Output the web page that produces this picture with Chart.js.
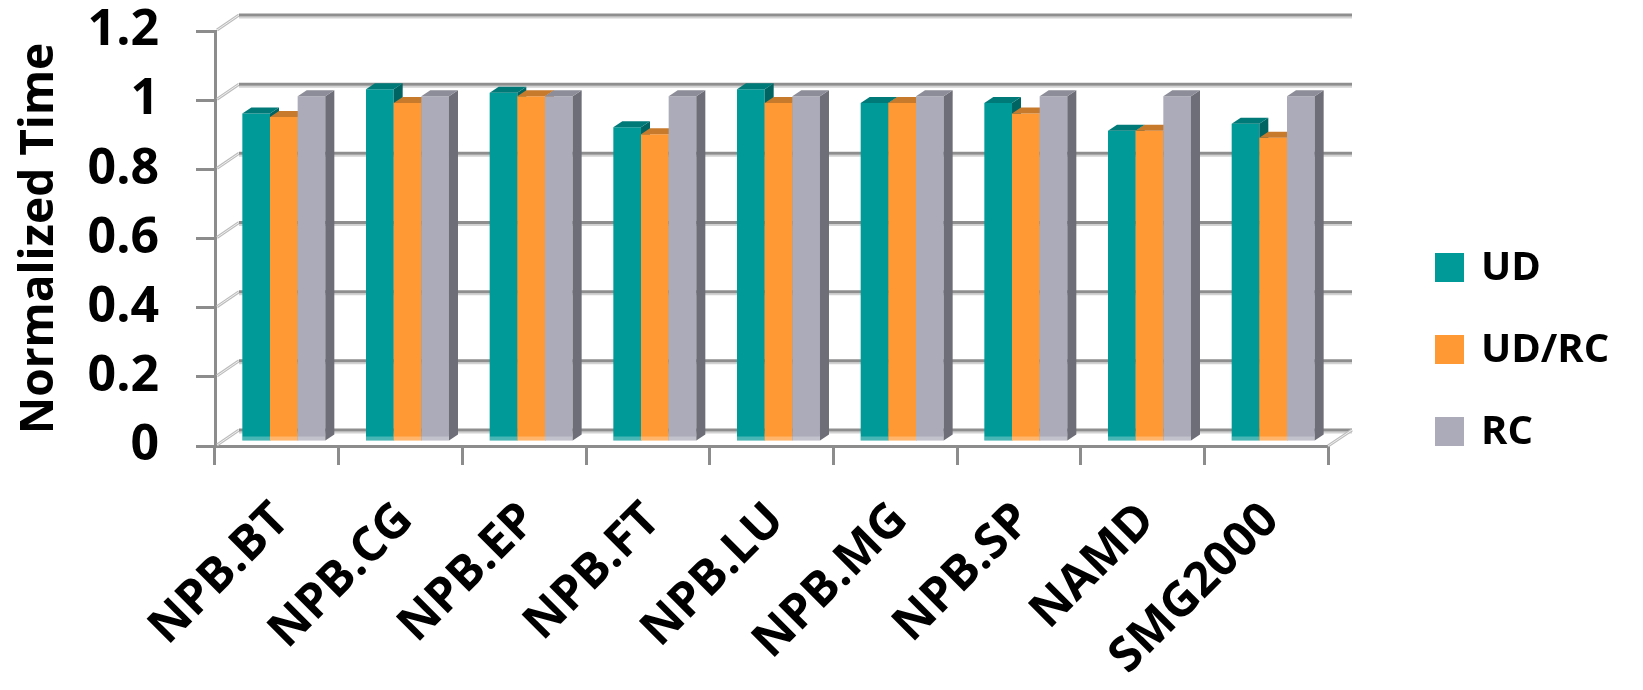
<!DOCTYPE html>
<html>
<head>
<meta charset="utf-8">
<script src="https://cdn.jsdelivr.net/npm/chart.js@4.4.1/dist/chart.umd.min.js"></script>
<style>
  html, body { margin: 0; padding: 0; background: #ffffff; }
  #wrap { width: 1643px; height: 690px; }
</style>
</head>
<body>
<div id="wrap"><canvas id="chart" width="1643" height="690"></canvas></div>
<script>
// ---- data ----
const categories = ['NPB.BT', 'NPB.CG', 'NPB.EP', 'NPB.FT', 'NPB.LU', 'NPB.MG', 'NPB.SP', 'NAMD', 'SMG2000'];
const seriesNames = ['UD', 'UD/RC', 'RC'];
const udValues   = [0.95, 1.02, 1.01, 0.91, 1.02, 0.98, 0.98, 0.90, 0.92];
const udrcValues = [0.94, 0.98, 1.00, 0.89, 0.98, 0.98, 0.95, 0.90, 0.88];
const rcValues   = [1.00, 1.00, 1.00, 1.00, 1.00, 1.00, 1.00, 1.00, 1.00];
const yTickValues = [0, 0.2, 0.4, 0.6, 0.8, 1, 1.2];

// ---- styling ----
const FONT = '"Open Sans", "DejaVu Sans", sans-serif';
const AXIS_COLOR = '#8c8c8c';
const frontColors = ['#009a99', '#ff9933', '#ababb9'];
const topColors   = ['#007a79', '#c87a2c', '#8d8d99'];
const sideColors  = ['#006463', '#b0671f', '#6e6e78'];
const WALL = { dx: 24, dy: 16 };      // depth of the back wall
const BAR_DEPTH = { dx: 9, dy: 6 };   // depth of each column
const BAR_SHIFT = { x: 7, y: -4 };    // columns sit slightly behind the front axis

function strokeLine(ctx, x1, y1, x2, y2) {
  ctx.beginPath(); ctx.moveTo(x1, y1); ctx.lineTo(x2, y2); ctx.stroke();
}
function fillPoly(ctx, pts) {
  ctx.beginPath();
  ctx.moveTo(pts[0][0], pts[0][1]);
  for (let i = 1; i < pts.length; i++) ctx.lineTo(pts[i][0], pts[i][1]);
  ctx.closePath(); ctx.fill();
}

// back wall, side connectors and floor edge
const wallPlugin = {
  id: 'wall3d',
  beforeDatasetsDraw(chart) {
    const { ctx, chartArea: a, scales: { y } } = chart;
    ctx.save();
    ctx.lineCap = 'butt';
    yTickValues.forEach(v => {
      const py = y.getPixelForValue(v);
      const by = py - WALL.dy;
      // connector from the front axis to the wall
      ctx.strokeStyle = '#bcbcbc'; ctx.lineWidth = 3;
      strokeLine(ctx, a.left + 2, py - 1, a.left + WALL.dx, by);
      ctx.strokeStyle = '#f0f0f0'; ctx.lineWidth = 1;
      strokeLine(ctx, a.left + 2, py - 1, a.left + WALL.dx, by);
      // wall gridline with a soft shade underneath
      ctx.strokeStyle = '#d2d2d2'; ctx.lineWidth = 2;
      strokeLine(ctx, a.left + WALL.dx, by + 2.5, a.right + WALL.dx, by + 2.5);
      ctx.strokeStyle = '#8e8e8e'; ctx.lineWidth = 3;
      strokeLine(ctx, a.left + WALL.dx, by, a.right + WALL.dx, by);
    });
    // right floor edge
    const fy = y.getPixelForValue(0);
    ctx.strokeStyle = '#bcbcbc'; ctx.lineWidth = 3;
    strokeLine(ctx, a.right, fy, a.right + WALL.dx, fy - WALL.dy);
    ctx.strokeStyle = '#f0f0f0'; ctx.lineWidth = 1;
    strokeLine(ctx, a.right, fy, a.right + WALL.dx, fy - WALL.dy);
    ctx.restore();
  }
};

// columns are drawn left series first so that each one hides the
// side face of its left neighbour; every column gets a top and a side face
const columnPlugin = {
  id: 'column3d',
  beforeDatasetDraw() { return false; },
  afterDatasetsDraw(chart) {
    const ctx = chart.ctx;
    ctx.save();
    ctx.translate(BAR_SHIFT.x, BAR_SHIFT.y);
    chart.data.datasets.forEach((ds, i) => {
      const meta = chart.getDatasetMeta(i);
      meta.data.forEach(bar => {
        bar.draw(ctx);
        const { x, y, base, width } = bar.getProps(['x', 'y', 'base', 'width'], true);
        const l = x - width / 2, r = x + width / 2;
        const dx = BAR_DEPTH.dx, dy = BAR_DEPTH.dy;
        // light band where the column meets the floor
        ctx.fillStyle = 'rgba(255,255,255,0.28)';
        ctx.fillRect(l, base - 4, width, 4);
        ctx.fillStyle = sideColors[i];
        fillPoly(ctx, [[r, y], [r + dx, y - dy], [r + dx, base - dy], [r, base]]);
        ctx.fillStyle = topColors[i];
        fillPoly(ctx, [[l, y], [r, y], [r + dx, y - dy], [l + dx, y - dy]]);
      });
    });
    ctx.restore();
  }
};

// legend on the right
const legendPlugin = {
  id: 'sideLegend',
  afterDraw(chart) {
    const ctx = chart.ctx;
    ctx.save();
    ctx.font = 'bold 40px ' + FONT;
    ctx.textBaseline = 'middle';
    ctx.textAlign = 'left';
    chart.data.datasets.forEach((ds, i) => {
      const cy = 268 + i * 82;
      ctx.fillStyle = ds.backgroundColor;
      ctx.fillRect(1435, cy - 15, 29, 29);
      ctx.fillStyle = '#000000';
      ctx.fillText(ds.label, 1481, cy + 1);
    });
    ctx.restore();
  }
};

const seriesValues = [udValues, udrcValues, rcValues];

new Chart(document.getElementById('chart'), {
  type: 'bar',
  data: {
    labels: categories,
    datasets: seriesNames.map((name, i) => ({
      label: name,
      data: seriesValues[i],
      backgroundColor: frontColors[i]
    }))
  },
  options: {
    responsive: false,
    animation: false,
    layout: { padding: { top: 31, right: 315, left: 0, bottom: 0 } },
    datasets: { bar: { categoryPercentage: 0.671, barPercentage: 1, borderWidth: 0, clip: false } },
    plugins: { legend: { display: false }, tooltip: { enabled: false } },
    scales: {
      x: {
        grid: { offset: true, drawOnChartArea: false, drawTicks: true, tickLength: 19, color: AXIS_COLOR, lineWidth: 3 },
        border: { display: true, color: AXIS_COLOR, width: 3 },
        ticks: {
          minRotation: 45, maxRotation: 45, autoSkip: false,
          color: '#000000', padding: 27, labelOffset: 5,
          font: { family: FONT, size: 48, weight: 'bold' }
        },
        afterFit(scale) {
          scale.height = 244;
          scale.paddingLeft = 0; scale.paddingRight = 0;
        }
      },
      y: {
        min: 0, max: 1.2,
        afterBuildTicks(scale) { scale.ticks = yTickValues.map(v => ({ value: v })); },
        grid: { drawOnChartArea: false, drawTicks: true, tickLength: 19, color: AXIS_COLOR, lineWidth: 3 },
        border: { display: true, color: AXIS_COLOR, width: 3 },
        ticks: {
          color: '#000000', padding: 37,
          font: { family: FONT, size: 50, weight: 'bold' },
          callback: v => String(v)
        },
        title: {
          display: true, text: 'Normalized Time', color: '#000000',
          font: { family: FONT, size: 46, weight: 'bold' },
          padding: { top: 12, bottom: 0 }
        },
        afterFit(scale) {
          scale.width = 215;
          scale.paddingTop = 0; scale.paddingBottom = 0;
        }
      }
    }
  },
  plugins: [wallPlugin, columnPlugin, legendPlugin]
});
</script>
</body>
</html>
